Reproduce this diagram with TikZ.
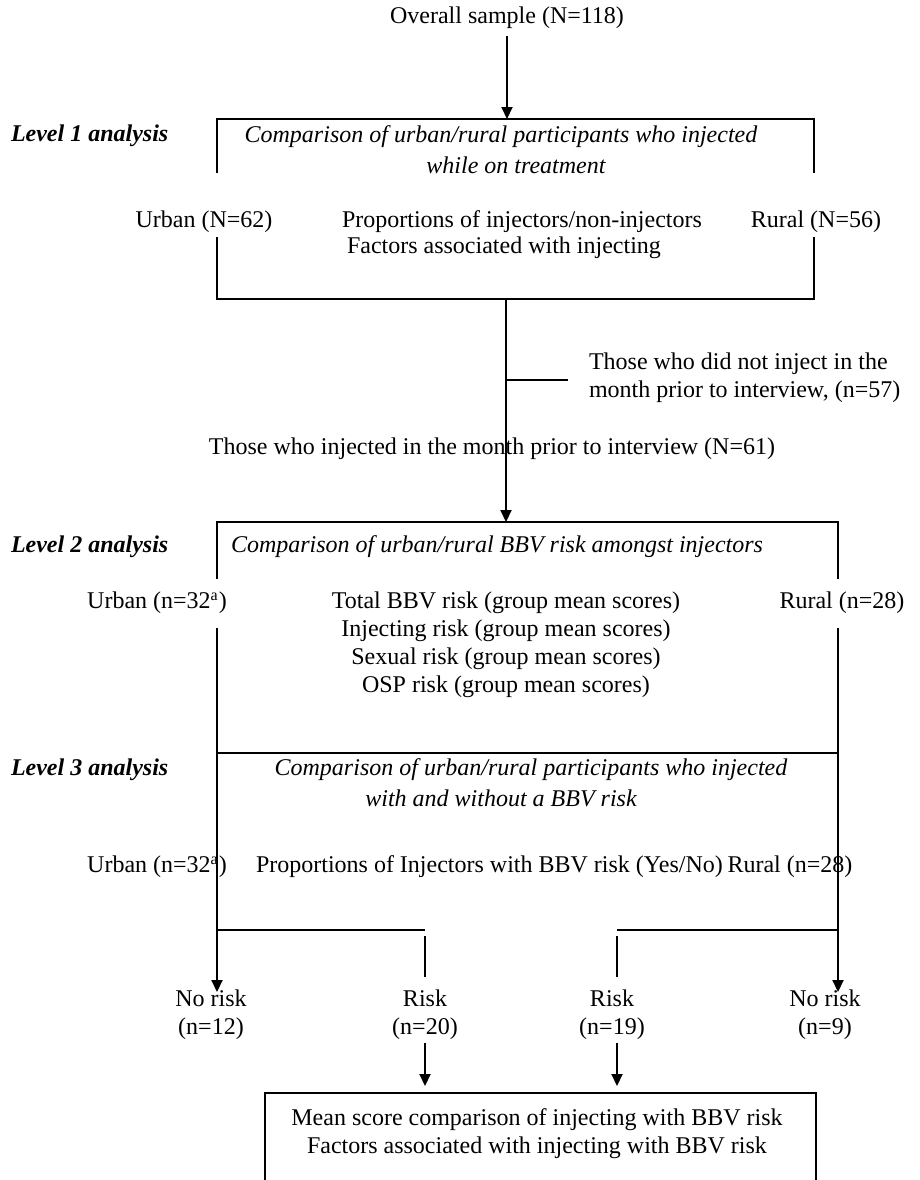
\documentclass[tikz,border=0pt]{standalone}
\usepackage{fontspec}
\setmainfont{Liberation Serif}
\usetikzlibrary{arrows.meta}

\begin{document}
\begin{tikzpicture}[x=0.5pt,y=-0.5pt,line width=1pt,
  >={Triangle[length=6pt,width=5.5pt]},
  lbl/.style={font=\fontsize{12}{14}\selectfont,inner sep=0pt},
  lvl/.style={lbl,font=\fontsize{12}{14}\selectfont\bfseries\itshape,anchor=west},
  ttl/.style={lbl,font=\fontsize{12}{14}\selectfont\itshape,align=center},
  arr/.style={->,shorten <=3pt}]
\useasboundingbox (0,0) rectangle (920,1180);

% top
\node[lbl] (overall) at (507,18) {Overall sample (N=118)};
\coordinate (b1top) at (507,119);
\draw[arr] (overall) -- (b1top);

% level 1
\node[lvl] (lev1) at (10,136) {Level 1 analysis};
\node[ttl] (cmp1a) at (501,137) {Comparison of urban/rural participants who injected};
\node[ttl] (cmp1b) at (516,165) {while on treatment};
\draw (217,173) -- (217,119) -- (814,119) -- (814,173);
\draw (217,237) -- (217,299) -- (814,299) -- (814,237);
\node[lbl] (urb1) at (204,222) {Urban (N=62)};
\node[lbl,anchor=west] (prop1) at (341,222) {Proportions of injectors/non-injectors};
\node[lbl,anchor=west] (fact1) at (346,248) {Factors associated with injecting};
\node[lbl] (rur1) at (816,222) {Rural (N=56)};

% injectors / non-injectors
\coordinate (b1bot) at (506,299);
\coordinate (split) at (506,380);
\coordinate (splitend) at (568,380);
\coordinate (b2top) at (506,522);
\draw[->] (b1bot) -- (b2top);
\draw (split) -- (splitend);
\node[lbl,anchor=west,align=left] (noinj) at (588,378) {Those who did not inject in the\\month prior to interview, (n=57)};
\node[lbl] (inj) at (492,449) {Those who injected in the month prior to interview (N=61)};

% level 2
\node[lvl] (lev2) at (10,547) {Level 2 analysis};
\node[ttl,anchor=west] (cmp2) at (230,547) {Comparison of urban/rural BBV risk amongst injectors};
\draw (217,579) -- (217,522) -- (838,522) -- (838,579);
\node[lbl] (urb2) at (157,603) {Urban (n=32\textsuperscript{a})};
\node[lbl] (rur2) at (842,603) {Rural (n=28)};
\node[lbl,align=center] (scores) at (506,645) {Total BBV risk (group mean scores)\\Injecting risk (group mean scores)\\Sexual risk (group mean scores)\\OSP risk (group mean scores)};
\draw (217,753) -- (838,753);

% level 3
\node[lvl] (lev3) at (10,770) {Level 3 analysis};
\node[ttl] (cmp3a) at (531,770) {Comparison of urban/rural participants who injected};
\node[ttl] (cmp3b) at (501,798) {with and without a BBV risk};
\node[lbl] (urb3) at (157,867) {Urban (n=32\textsuperscript{a})};
\node[lbl,anchor=west] (prop3) at (255,867) {Proportions of Injectors with BBV risk (Yes/No)};
\node[lbl] (rur3) at (790,867) {Rural (n=28)};

% branches
\coordinate (urbtop) at (217,628);
\coordinate (rurtop) at (838,628);
\coordinate (nr1tip) at (217,992);
\coordinate (nr2tip) at (838,992);
\draw[->] (urbtop) -- (nr1tip);
\draw[->] (rurtop) -- (nr2tip);
\draw (217,930) -- (425,930);
\draw (617,930) -- (838,930);
\draw (425,936) -- (425,977);
\draw (617,936) -- (617,977);

\node[lbl,align=center] (nr1) at (211,1015) {No risk\\(n=12)};
\node[lbl,align=center] (rk1) at (425,1015) {Risk\\(n=20)};
\node[lbl,align=center] (rk2) at (612,1015) {Risk\\(n=19)};
\node[lbl,align=center] (nr2) at (825,1015) {No risk\\(n=9)};

% final box
\coordinate (rk1out) at (425,1043);
\coordinate (rk2out) at (617,1043);
\coordinate (b3a) at (425,1086);
\coordinate (b3b) at (617,1086);
\draw[->] (rk1out) -- (b3a);
\draw[->] (rk2out) -- (b3b);
\draw (265,1180) -- (265,1093) -- (816,1093) -- (816,1180);
\node[lbl,align=center] (final) at (537,1134) {Mean score comparison of injecting with BBV risk\\Factors associated with injecting with BBV risk};

\end{tikzpicture}
\end{document}
